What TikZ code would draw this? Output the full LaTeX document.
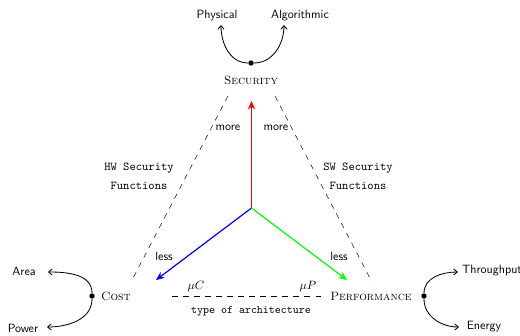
\documentclass[tikz,border=0pt]{standalone}
\usetikzlibrary{arrows.meta}
\begin{document}
\begin{tikzpicture}[x=0.8333pt,y=-0.8333pt,
  lab/.style={font=\sffamily},
  sc/.style={font=\scshape},
  tt/.style={font=\ttfamily, align=center},
  dashline/.style={dash pattern=on 4.6pt off 4.6pt, thin},
  axis/.style={line width=1pt, -{Stealth[length=7pt,width=6pt]}},
  branch/.style={line width=0.7pt, -{Straight Barb[length=3pt,width=5pt]}},
  dotn/.style={circle, fill=black, inner sep=0pt, minimum size=4.5pt}]
\useasboundingbox (0,0) rectangle (520,336);
% nodes
\node[sc] (sec) at (251,80) {Security};
\node[dotn] (sdot) at (251,63) {};
\node[lab] (phys) at (217,16) {Physical};
\node[lab] (alg) at (300,16) {Algorithmic};
\coordinate (physT) at (221,25);
\coordinate (algT) at (284,25);
\node[sc] (cost) at (116,296) {Cost};
\node[dotn] (cdot) at (92,296) {};
\node[lab] (area) at (24,271) {Area};
\node[lab] (power) at (23,328) {Power};
\coordinate (areaT) at (48,272);
\coordinate (powerT) at (47,327);
\node[sc] (perf) at (371,296) {Performance};
\node[dotn] (pdot) at (424,296) {};
\node[lab] (thr) at (492,271) {Throughput};
\node[lab] (en) at (484,327) {Energy};
\coordinate (thrT) at (458,272);
\coordinate (enT) at (459,327);
% branches
\draw[branch] (sdot) to[out=180,in=-90] (physT);
\draw[branch] (sdot) to[out=0,in=-90] (algT);
\draw[branch] (cdot) to[out=90,in=0] (areaT);
\draw[branch] (cdot) to[out=-90,in=0] (powerT);
\draw[branch] (pdot) to[out=90,in=180] (thrT);
\draw[branch] (pdot) to[out=-90,in=180] (enT);
% axes
\coordinate (o) at (251.5,208);
\coordinate (up) at (251.5,101);
\coordinate (bl) at (156,280);
\coordinate (br) at (347,280);
\draw[axis, red] (o) -- (up);
\draw[axis, blue] (o) -- (bl);
\draw[axis, green] (o) -- (br);
% dashed lines
\coordinate (l1) at (228,96);
\coordinate (l2) at (131,282);
\coordinate (r1) at (275,96);
\coordinate (r2) at (372,282);
\coordinate (b1) at (172,296);
\coordinate (b2) at (324,296);
\draw[dashline] (l1) -- (l2);
\draw[dashline] (r1) -- (r2);
\draw[dashline] (b1) -- (b2);
% labels
\node[lab] (m1) at (228,128) {more};
\node[lab] (m2) at (276,128) {more};
\node[lab] (l1t) at (164,256) {less};
\node[lab] (l2t) at (339,256) {less};
\node[tt] (hw) at (139,176) {HW Security\\[4pt]Functions};
\node[tt] (sw) at (358,176) {SW Security\\[4pt]Functions};
\node (muc) at (196,287) {$\mu C$};
\node (mup) at (308,287) {$\mu P$};
\node[font=\ttfamily\fontsize{9.5}{11}\selectfont] (toa) at (251,311) {type of architecture};
\end{tikzpicture}
\end{document}
